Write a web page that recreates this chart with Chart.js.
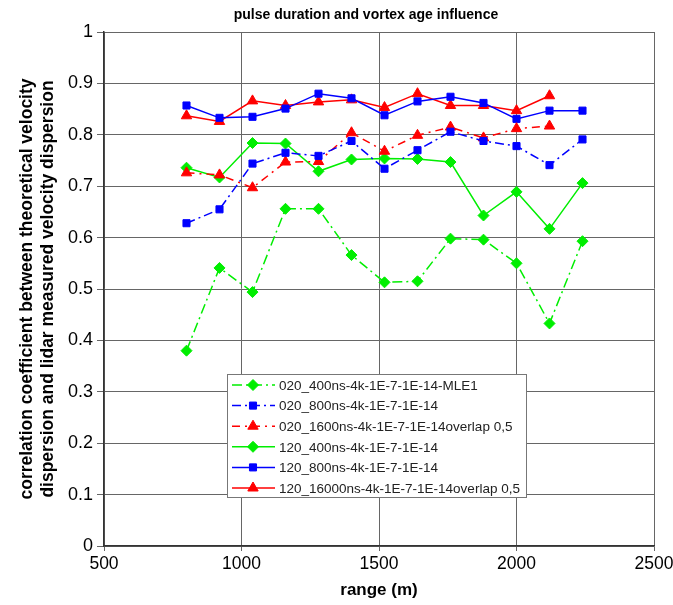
<!DOCTYPE html>
<html><head><meta charset="utf-8">
<script src="https://cdn.jsdelivr.net/npm/chart.js@4/dist/chart.umd.min.js"></script>
<style>html,body{margin:0;padding:0;background:#fff}#wrap{width:673px;height:605px}</style>
</head><body><div id="wrap"><canvas id="c" width="673" height="605"></canvas></div>
<script>
const ranges = [800, 920, 1040, 1160, 1280, 1400, 1520, 1640, 1760, 1880, 2000, 2120, 2240];
const s020_400 = [0.380, 0.541, 0.494, 0.656, 0.656, 0.566, 0.513, 0.515, 0.598, 0.596, 0.550, 0.433, 0.593];
const s020_800 = [0.628, 0.655, 0.744, 0.765, 0.759, 0.788, 0.734, 0.770, 0.806, 0.788, 0.778, 0.741, 0.791];
const s020_1600 = [0.726, 0.722, 0.697, 0.747, 0.748, 0.804, 0.768, 0.799, 0.815, 0.794, 0.812, 0.817];
const s120_400 = [0.736, 0.717, 0.784, 0.783, 0.729, 0.752, 0.754, 0.753, 0.747, 0.643, 0.689, 0.617, 0.706];
const s120_800 = [0.857, 0.833, 0.835, 0.851, 0.880, 0.871, 0.838, 0.865, 0.874, 0.862, 0.831, 0.847, 0.847];
const s120_16000 = [0.837, 0.826, 0.866, 0.857, 0.864, 0.868, 0.853, 0.880, 0.857, 0.857, 0.847, 0.876];
const seriesNames = ['020_400ns-4k-1E-7-1E-14-MLE1','020_800ns-4k-1E-7-1E-14','020_1600ns-4k-1E-7-1E-14overlap 0,5','120_400ns-4k-1E-7-1E-14','120_800ns-4k-1E-7-1E-14','120_16000ns-4k-1E-7-1E-14overlap 0,5'];
const xTicks = [500, 1000, 1500, 2000, 2500];
const yTicks = [0, 0.1, 0.2, 0.3, 0.4, 0.5, 0.6, 0.7, 0.8, 0.9, 1];
const chartTitle = 'pulse duration and vortex age influence';

const FONT = "Arial, 'Liberation Sans', sans-serif";
function pts(vals){ return vals.map((v,i)=>({x:ranges[i], y:v})); }
function ds(label, vals, color, style, dash){
  return {label, data:pts(vals), borderColor:color, backgroundColor:color, pointStyle:style,
    pointRadius: style==='triangle'?6:(style==='rectRot'?5.5:5), pointBorderWidth:1, borderWidth:1.5,
    borderDash:dash, showLine:true, tension:0};
}
const datasets = [
  ds(seriesNames[0], s020_400, '#00ee00', 'rectRot', [10,4,2,4]),
  ds(seriesNames[1], s020_800, '#0000ff', 'rect', [9,4,2,4]),
  ds(seriesNames[2], s020_1600, '#ff0000', 'triangle', [8,5,2,5]),
  ds(seriesNames[3], s120_400, '#00ee00', 'rectRot', []),
  ds(seriesNames[4], s120_800, '#0000ff', 'rect', []),
  ds(seriesNames[5], s120_16000, '#ff0000', 'triangle', []),
];

const extras = {
  id:'extras',
  afterDraw(chart){
    const ctx = chart.ctx;
    ctx.save();
    ctx.fillStyle='#000'; ctx.font='bold 14px '+FONT; ctx.textAlign='center'; ctx.textBaseline='middle';
    ctx.fillText(chartTitle, 366, 15);
    const x0=227, y0=374, w=299, h=123, row=20.6;
    ctx.fillStyle='#fff'; ctx.fillRect(x0,y0,w,h);
    ctx.strokeStyle='#777'; ctx.lineWidth=1; ctx.strokeRect(x0+0.5,y0+0.5,w,h);
    chart.data.datasets.forEach((d,i)=>{
      const y = y0+11+i*row;
      ctx.strokeStyle=d.borderColor; ctx.lineWidth=1.5; ctx.setLineDash(d.borderDash||[]);
      ctx.beginPath(); ctx.moveTo(x0+5,y); ctx.lineTo(x0+48,y); ctx.stroke();
      ctx.setLineDash([]);
      ctx.fillStyle=d.backgroundColor; ctx.strokeStyle=d.borderColor; ctx.lineWidth=1;
      Chart.helpers.drawPoint(ctx,{pointStyle:d.pointStyle,radius:d.pointRadius,rotation:0,borderWidth:1},x0+26,y);
      ctx.fillStyle='#222'; ctx.font='13.5px '+FONT; ctx.textBaseline='middle'; ctx.textAlign='left';
      ctx.fillText(d.label, x0+52, y+1);
    });
    ctx.restore();
  }
};

new Chart(document.getElementById('c'), {
  type:'scatter',
  data:{datasets},
  plugins:[extras],
  options:{
    responsive:false, animation:false, devicePixelRatio:1,
    layout:{padding:{left:4, right:0, top:32, bottom:0}},
    plugins:{ legend:{display:false}, tooltip:{enabled:false}, title:{display:false} },
    scales:{
      x:{type:'linear', min:500, max:2500,
        afterBuildTicks(s){ s.ticks = xTicks.map(v=>({value:v})); },
        afterFit(s){ s.height = 59; s.paddingRight = 19; },
        ticks:{color:'#000', font:{family:FONT, size:17.5}, padding:3, maxRotation:0, callback:v=>String(v)},
        grid:{color:'#666', lineWidth:1, tickLength:5},
        border:{color:'#333', width:1.5},
        title:{display:true, text:'range (m)', color:'#000', font:{family:FONT, size:17, weight:'bold'}, padding:{top:10}}
      },
      y:{min:0, max:1,
        afterBuildTicks(s){ s.ticks = yTicks.map(v=>({value:v})); },
        ticks:{color:'#000', font:{family:FONT, size:18}, padding:4, callback:v=>String(Math.round(v*10)/10)},
        afterFit(s){ s.width = 100; },
        grid:{color:'#666', lineWidth:1, tickLength:7},
        border:{color:'#333', width:1.5},
        title:{display:true, text:['correlation coefficient between theoretical velocity','dispersion and lidar measured velocity dispersion'], color:'#000', font:{family:FONT, size:17.5, weight:'bold'}, padding:{top:13, bottom:0}}
      }
    }
  }
});
</script></body></html>
